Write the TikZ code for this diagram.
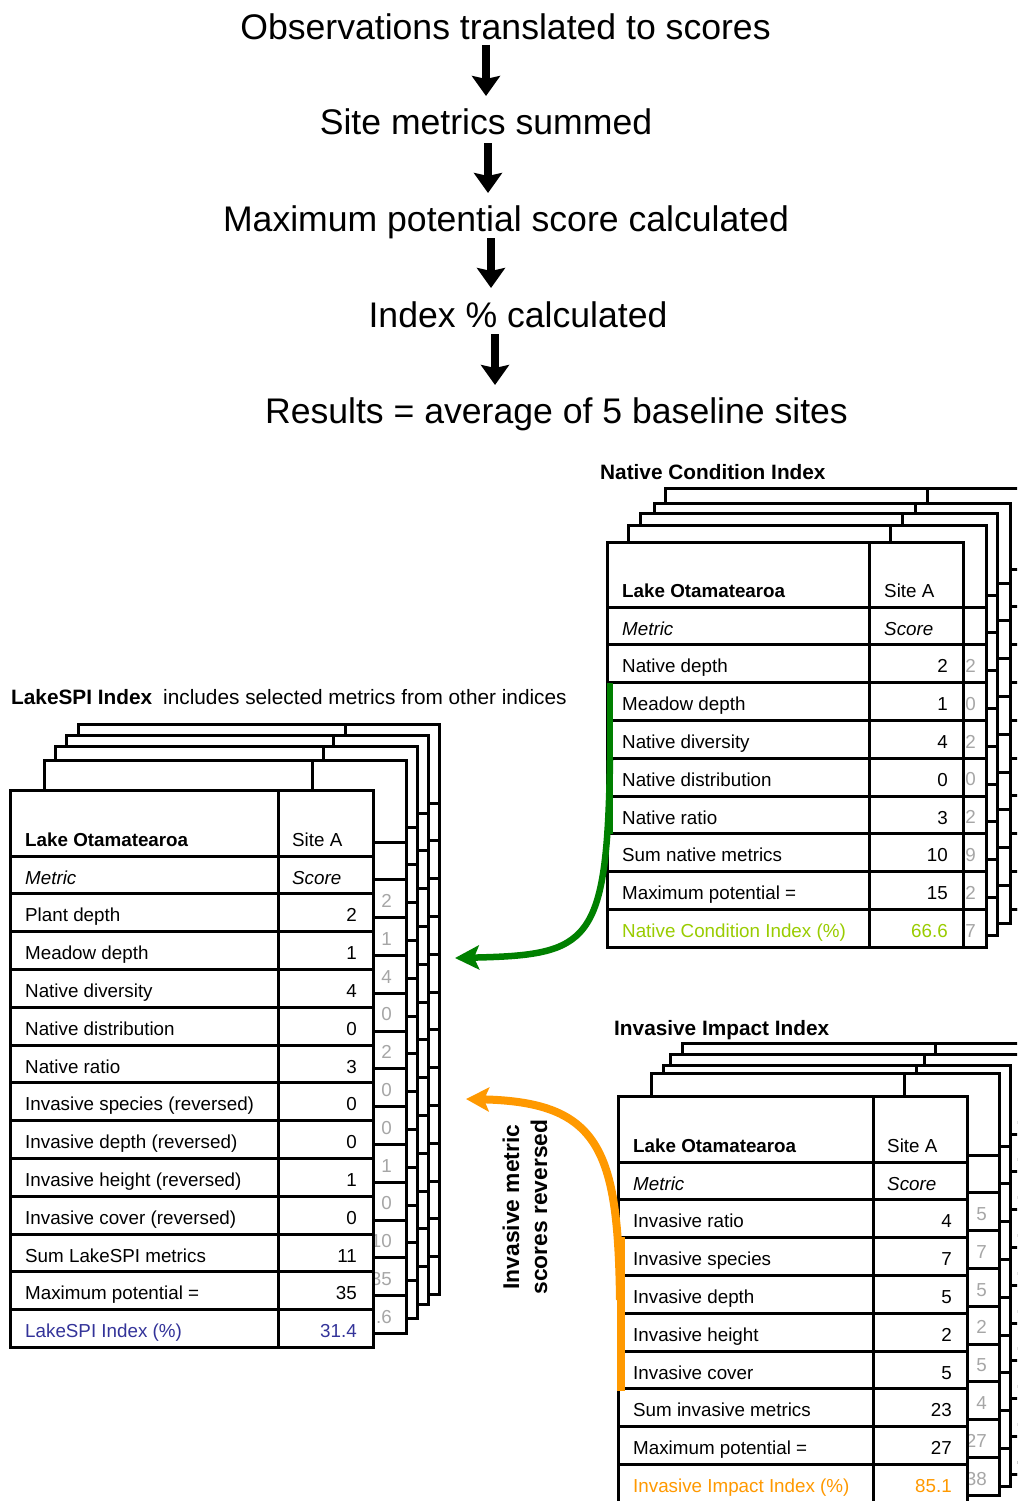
\documentclass[tikz,border=0pt]{standalone}
\usepackage{fontspec}
\setmainfont{Liberation Sans}
\usetikzlibrary{arrows.meta}
\definecolor{spiblue}{HTML}{333399}
\definecolor{ncigreen}{HTML}{99CC00}
\definecolor{iiorange}{HTML}{FF9900}
\definecolor{arrgreen}{HTML}{008000}
\definecolor{valgray}{HTML}{A6A6A6}
\newcommand{\tblstack}[6]{%
  \pgfmathsetmacro{\tbbot}{#5+#6*37.8}%
  \fill[white] (#1,#2) rectangle (#4,\tbbot);%
  \draw[tbl] (#3,#2) -- (#3,\tbbot);%
  \foreach \kk in {0,...,#6}{\draw[tbl] (#1,{#5+\kk*37.8}) -- (#4,{#5+\kk*37.8});}%
  \draw[tbl] (#1,#2) rectangle (#4,\tbbot);%
}
\begin{document}
\begin{tikzpicture}[x=1pt,y=-1pt,
  tbl/.style={line width=3pt},
  cell/.style={font=\fontsize{18.8}{22}\selectfont, inner sep=0pt},
  celli/.style={font=\fontsize{18.8}{22}\selectfont\itshape, inner sep=0pt},
  hdr/.style={font=\fontsize{18.8}{22}\selectfont\bfseries, inner sep=0pt, anchor=base west},
  ttl/.style={font=\fontsize{20.8}{24}\selectfont\bfseries, inner sep=0pt, anchor=base west},
  sub/.style={font=\fontsize{20.8}{24}\selectfont, inner sep=0pt, anchor=base west},
  big/.style={font=\fontsize{35.6}{40}\selectfont, inner sep=0pt, anchor=base},
  flow/.style={line width=8pt, -{Stealth[length=20pt,width=28pt,inset=3pt]}},
  garrow/.style={draw=arrgreen, line width=6.5pt, -{Stealth[length=24pt,width=24pt,inset=5pt]}},
  oarrow/.style={draw=iiorange, line width=8pt, -{Stealth[length=23pt,width=24pt,inset=5pt]}}]
\clip (0,0) rectangle (1017,1501);
\fill[white] (0,0) rectangle (1017,1501);

% ---------- flow at top ----------
\node[big] (t1) at (505.5,40) {Observations translated to scores};
\node[big] (t2) at (486,135) {Site metrics summed};
\node[big] (t3) at (506,231) {Maximum potential score calculated};
\node[big] (t4) at (518,327) {Index \% calculated};
\node[big] (t5) at (556.5,423) {Results = average of 5 baseline sites};
\coordinate (a1s) at (486,45);  \coordinate (a1e) at (486,96);
\coordinate (a2s) at (488,143); \coordinate (a2e) at (488,193);
\coordinate (a3s) at (491,238); \coordinate (a3e) at (491,288);
\coordinate (a4s) at (495,334); \coordinate (a4e) at (495,385);
\draw[flow] (a1s) -- (a1e);
\draw[flow] (a2s) -- (a2e);
\draw[flow] (a3s) -- (a3e);
\draw[flow] (a4s) -- (a4e);

% ---------- LakeSPI stack ----------
\node[ttl] (spititle) at (11,704.5) {LakeSPI Index};
\node[sub] (spisub) at (163,704.5) {includes selected metrics from other indices};
\tblstack{78}{724}{345}{439}{803}{13}
\tblstack{66}{735}{333}{428}{813}{13}
\tblstack{55}{746}{323}{417}{827}{13}
\tblstack{44}{760}{312}{406}{842}{13}
\foreach \v [count=\k] in {2,1,4,0,2,0,0,1,0,10,35,.6}
  \node[cell,anchor=base east,text=valgray] (spig\k) at (392,{842+\k*37.8+27.6}) {\v};
\tblstack{10}{790}{278}{373}{856}{13}
\node[hdr] (spilake) at (25,846) {Lake Otamatearoa};
\node[cell,anchor=base west] (spisite) at (292,846) {Site A};
\node[celli,anchor=base west] (spimetric) at (25,884) {Metric};
\node[celli,anchor=base west] (spiscore) at (292,884) {Score};
\foreach \lab/\val [count=\k] in {{Plant depth}/2,{Meadow depth}/1,{Native diversity}/4,{Native distribution}/0,{Native ratio}/3,{Invasive species (reversed)}/0,{Invasive depth (reversed)}/0,{Invasive height (reversed)}/1,{Invasive cover (reversed)}/0,{Sum LakeSPI metrics}/11,{Maximum potential =}/35}{
  \node[cell,anchor=base west] (spil\k) at (25,{856+\k*37.8+28}) {\lab};
  \node[cell,anchor=base east] (spiv\k) at (357,{856+\k*37.8+28}) {\val};
}
\node[cell,anchor=base west,text=spiblue] (spil12) at (25,{856+12*37.8+28}) {LakeSPI Index (\%)};
\node[cell,anchor=base east,text=spiblue] (spiv12) at (357,{856+12*37.8+28}) {31.4};

% ---------- Native Condition stack ----------
\node[ttl] (ncititle) at (600,479.5) {Native Condition Index};
\tblstack{665}{488}{927}{1030}{569}{9}
\tblstack{654}{503}{915}{1010}{583}{9}
\tblstack{640}{513}{902}{997}{595}{9}
\tblstack{628}{525}{890}{986}{607}{9}
\foreach \v [count=\k] in {2,0,12,0,2,9,2,7}
  \node[cell,anchor=base east,text=valgray] (ncig\k) at (976,{607+\k*37.8+27.6}) {\v};
\tblstack{607}{542}{869}{963}{607}{9}
\node[hdr] (ncilake) at (622,597) {Lake Otamatearoa};
\node[cell,anchor=base west] (ncisite) at (884,597) {Site A};
\node[celli,anchor=base west] (ncimetric) at (622,635) {Metric};
\node[celli,anchor=base west] (nciscore) at (884,635) {Score};
\foreach \lab/\val [count=\k] in {{Native depth}/2,{Meadow depth}/1,{Native diversity}/4,{Native distribution}/0,{Native ratio}/3,{Sum native metrics}/10,{Maximum potential =}/15}{
  \node[cell,anchor=base west] (ncil\k) at (622,{607+\k*37.8+28}) {\lab};
  \node[cell,anchor=base east] (nciv\k) at (948,{607+\k*37.8+28}) {\val};
}
\node[cell,anchor=base west,text=ncigreen] (ncil8) at (622,{607+8*37.8+28}) {Native Condition Index (\%)};
\node[cell,anchor=base east,text=ncigreen] (nciv8) at (948,{607+8*37.8+28}) {66.6};

% ---------- Invasive Impact stack ----------
\node[ttl] (iiititle) at (614,1035.5) {Invasive Impact Index};
\tblstack{682}{1043}{935}{1044}{1122}{9}
\tblstack{670}{1054}{924}{1021}{1134}{9}
\tblstack{663}{1065}{916}{1010}{1146}{9}
\tblstack{651}{1073}{904}{999}{1155}{9}
\foreach \v [count=\k] in {5,7,5,2,5,4,27,38}
  \node[cell,anchor=base east,text=valgray] (iiig\k) at (987,{1155+\k*37.8+27.6}) {\v};
\tblstack{618}{1096}{873}{967}{1162}{9}
\node[hdr] (iiilake) at (633,1152) {Lake Otamatearoa};
\node[cell,anchor=base west] (iiisite) at (887,1152) {Site A};
\node[celli,anchor=base west] (iiimetric) at (633,1190) {Metric};
\node[celli,anchor=base west] (iiiscore) at (887,1190) {Score};
\foreach \lab/\val [count=\k] in {{Invasive ratio}/4,{Invasive species}/7,{Invasive depth}/5,{Invasive height}/2,{Invasive cover}/5,{Sum invasive metrics}/23,{Maximum potential =}/27}{
  \node[cell,anchor=base west] (iiil\k) at (633,{1162+\k*37.8+28}) {\lab};
  \node[cell,anchor=base east] (iiiv\k) at (952,{1162+\k*37.8+28}) {\val};
}
\node[cell,anchor=base west,text=iiorange] (iiil8) at (633,{1162+8*37.8+28}) {Invasive Impact Index (\%)};
\node[cell,anchor=base east,text=iiorange] (iiiv8) at (952,{1162+8*37.8+28}) {85.1};

% ---------- brackets and arrows ----------
\fill[arrgreen] (607,683) rectangle (613,834);
\fill[iiorange] (617,1237) rectangle (625,1391);
\coordinate (gs) at (610,760);
\coordinate (ge) at (455,958);
\draw[garrow] (gs) .. controls (607,945) and (590,955) .. (ge);
\coordinate (os) at (620,1300);
\coordinate (oe) at (466,1099);
\draw[oarrow] (os) .. controls (618,1150) and (600,1102) .. (oe);
\node[font=\fontsize{22.8}{28}\selectfont\bfseries, inner sep=0pt, rotate=90, align=center] (revnote) at (525,1207) {Invasive metric\\scores reversed};
\end{tikzpicture}
\end{document}
